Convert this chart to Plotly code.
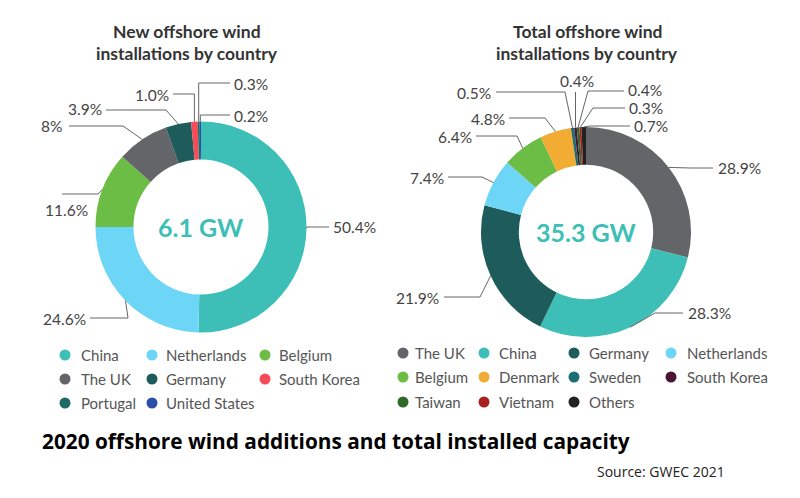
import math
import plotly.graph_objects as go

W, H = 800, 498

# ---------------- data ----------------
new_countries = ["China", "Netherlands", "Belgium", "The UK", "Germany",
                 "South Korea", "Portugal", "United States"]
new_share = [50.4, 24.6, 11.6, 8, 3.9, 1.0, 0.3, 0.2]
new_text = ["50.4%", "24.6%", "11.6%", "8%", "3.9%", "1.0%", "0.3%", "0.2%"]
new_colors = ["#3dbfb8", "#6dd5f5", "#6cbd45", "#636569", "#1e5b5b",
              "#f64c5a", "#1d6b64", "#2a4ea6"]
new_total = "6.1 GW"

tot_countries = ["The UK", "China", "Germany", "Netherlands", "Belgium",
                 "Denmark", "Sweden", "South Korea", "Taiwan", "Vietnam", "Others"]
tot_share = [28.9, 28.3, 21.9, 7.4, 6.4, 4.8, 0.5, 0.4, 0.4, 0.3, 0.7]
tot_text = ["28.9%", "28.3%", "21.9%", "7.4%", "6.4%", "4.8%", "0.5%",
            "0.4%", "0.4%", "0.3%", "0.7%"]
tot_colors = ["#636569", "#3dbfb8", "#1e5b5b", "#6dd5f5", "#6cbd45",
              "#f2ac33", "#1c6e74", "#4a1535", "#2f6a2a", "#a82020", "#222222"]
tot_total = "35.3 GW"

# ---------------- layout helpers (pixels) ----------------
LEFT = dict(cx=201, cy=227, r=105.5)
RIGHT = dict(cx=586, cy=232, r=105)
HOLE = 0.64
FONT = "Lato, 'Open Sans', sans-serif"
LINE_COL = "#666666"
TXT_COL = "#444444"
LABEL_SIZE = 15.5

# label placement: (text_x, text_y, xanchor, elbow_x or None, line_y, end_x or None)
new_label_pos = [
    (331, 227, "left", 307, 227, 329),
    (88, 319, "right", 128, 318, 90),
    (66, 210, "center", 98, 194, 62),
    (64, 126, "right", 123, 126, 69),
    (104, 109, "right", 166, 110, 106),
    (171, 95, "right", None, 94, 173),
    (232, 84, "left", None, 83, 230),
    (232, 116, "left", None, 115, 230),
]
tot_label_pos = [
    (716, 168, "left", 690, 168, 713),
    (686, 313, "left", 655, 313, 683),
    (441, 298, "right", 480, 297, 444),
    (446, 178, "right", 482, 177, 448),
    (474, 137, "right", 517, 136, 476),
    (507, 119, "right", 545, 118, 509),
    (493, 93, "right", 565, 92, 496),
    (577, 81, "center", None, 92, None),
    (626, 90, "left", 588, 91, 624),
    (627, 108, "left", 593, 108, 625),
    (632, 126, "left", 590, 126, 630),
]

fig = go.Figure()


def add_pie(values, colors, names, geo):
    cx, cy, r = geo["cx"], geo["cy"], geo["r"]
    fig.add_trace(go.Pie(
        values=values, labels=names, marker=dict(colors=colors, line=dict(width=0)),
        hole=HOLE, sort=False, direction="clockwise", rotation=0,
        textinfo="none", hoverinfo="label+percent", showlegend=False,
        domain=dict(x=[(cx - r) / W, (cx + r) / W],
                    y=[1 - (cy + r) / H, 1 - (cy - r) / H]),
    ))


def add_labels(values, texts, geo, positions):
    cx, cy, r = geo["cx"], geo["cy"], geo["r"]
    total = sum(values)
    cum = 0
    for v, t, pos in zip(values, texts, positions):
        mid = (cum + v / 2) / total * 2 * math.pi
        cum += v
        px = cx + r * math.sin(mid)
        py = cy - r * math.cos(mid)
        tx, ty, xa, ex, ly, endx = pos
        if ex is None:
            ex = px
        pts = [(px, py), (ex, ly)]
        if endx is not None:
            pts.append((endx, ly))
        path = "M " + " L ".join(f"{a:.1f},{b:.1f}" for a, b in pts)
        fig.add_shape(type="path", path=path, xref="x", yref="y",
                      line=dict(color=LINE_COL, width=1), layer="above")
        fig.add_annotation(x=tx, y=ty, xref="x", yref="y", text=t,
                           showarrow=False, xanchor=xa, yanchor="middle",
                           font=dict(family=FONT, size=LABEL_SIZE, color=TXT_COL))


add_pie(new_share, new_colors, new_countries, LEFT)
add_pie(tot_share, tot_colors, tot_countries, RIGHT)


def add_legend(names, colors, col_marker_x, col_text_x, row_y):
    ncol = len(col_marker_x)
    xs, ys = [], []
    for i, (n, c) in enumerate(zip(names, colors)):
        row, col = divmod(i, ncol)
        xs.append(col_marker_x[col])
        ys.append(row_y[row])
        fig.add_annotation(x=col_text_x[col], y=row_y[row], xref="x", yref="y",
                           text=n, showarrow=False, xanchor="left", yanchor="middle",
                           font=dict(family=FONT, size=15, color="#555555"))
    fig.add_trace(go.Scatter(x=xs, y=ys, mode="markers", hoverinfo="skip",
                             marker=dict(size=11, color=colors), showlegend=False))


add_legend(new_countries, new_colors, [65, 152, 265], [79, 164, 277], [355, 379, 403])
add_legend(tot_countries, tot_colors, [403, 484, 574, 671], [413, 497, 587, 685], [353, 377, 402])

add_labels(new_share, new_text, LEFT, new_label_pos)
add_labels(tot_share, tot_text, RIGHT, tot_label_pos)

# centre totals
for geo, txt in [(LEFT, new_total), (RIGHT, tot_total)]:
    fig.add_annotation(x=geo["cx"], y=geo["cy"], xref="x", yref="y", text=f"<b>{txt}</b>",
                       showarrow=False, xanchor="center", yanchor="middle",
                       font=dict(family=FONT, size=25, color="#3dbfb8"))

# chart titles
for x, l1, l2 in [(187, "New offshore wind", "installations by country"),
                  (587, "Total offshore wind", "installations by country")]:
    for y, s in [(31, l1), (53, l2)]:
        fig.add_annotation(x=x, y=y, xref="x", yref="y", text=f"<b>{s}</b>",
                           showarrow=False, xanchor="center", yanchor="middle",
                           font=dict(family=FONT, size=17.5, color="#333333"))

fig.add_annotation(x=40, y=441, xref="x", yref="y",
                   text="<b>2020 offshore wind additions and total installed capacity</b>",
                   showarrow=False, xanchor="left", yanchor="middle",
                   font=dict(family="'Open Sans', Lato, sans-serif", size=20.8, color="#000000"))
fig.add_annotation(x=727, y=471, xref="x", yref="y", text="Source: GWEC 2021",
                   showarrow=False, xanchor="right", yanchor="middle",
                   font=dict(family="'Open Sans', sans-serif", size=14, color="#222222"))

fig.update_layout(
    width=W, height=H, margin=dict(l=0, r=0, t=0, b=0),
    paper_bgcolor="white", plot_bgcolor="rgba(0,0,0,0)",
    xaxis=dict(range=[0, W], visible=False, fixedrange=True),
    yaxis=dict(range=[H, 0], visible=False, fixedrange=True),
    showlegend=False,
)

fig.write_html("out.html", config={"displayModeBar": False},
               post_script="document.body.style.margin='0';document.body.style.padding='0';")
